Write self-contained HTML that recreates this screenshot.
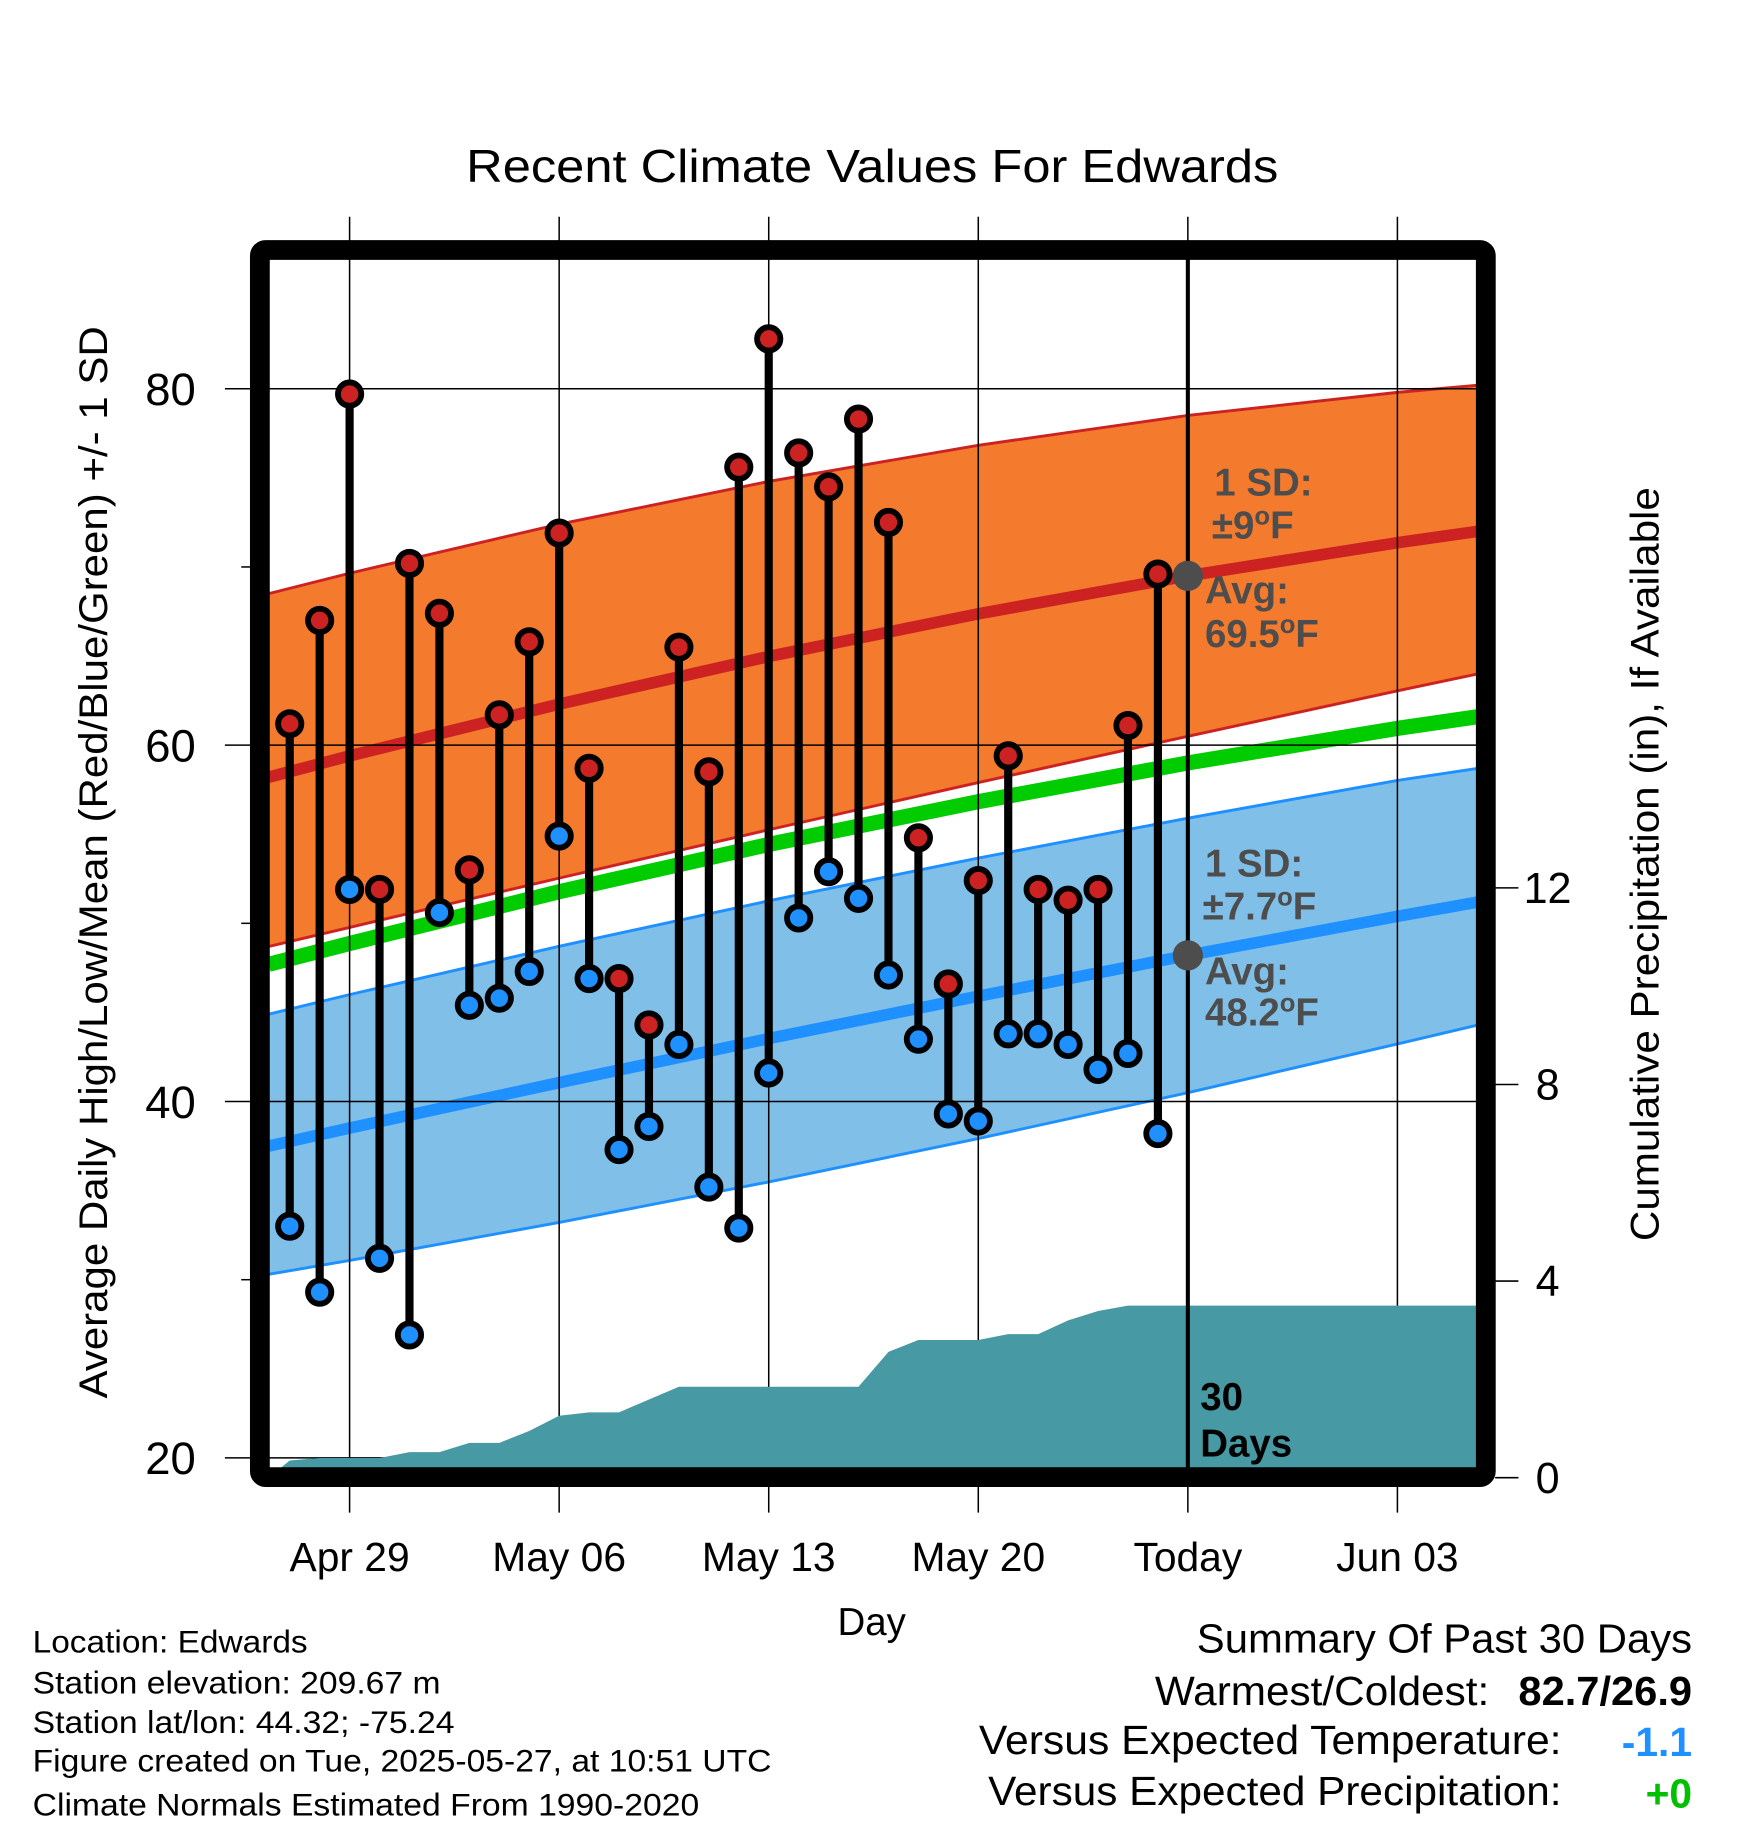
<!DOCTYPE html>
<html><head><meta charset="utf-8"><style>
html,body{margin:0;padding:0;background:#fff;}
svg{display:block;font-family:"Liberation Sans",Arial,sans-serif;}
</style></head><body>
<svg id="chart" width="1748" height="1828" viewBox="0 0 1500 1568.6" preserveAspectRatio="none" xmlns="http://www.w3.org/2000/svg">
<text x="400" y="156" font-size="40" textLength="697" lengthAdjust="spacingAndGlyphs">Recent Climate Values For Edwards</text>
<g id="bands"></g>
<g id="grid"></g>
<g id="precip"></g>
<g id="marks"></g>
<g id="annot"></g>
<rect x="223" y="214.5" width="1052" height="1053" rx="5" fill="none" stroke="#000" stroke-width="17"/>
<g id="axes"></g>
<text transform="translate(92,1200) rotate(-90)" font-size="34" textLength="920" lengthAdjust="spacingAndGlyphs">Average Daily High/Low/Mean (Red/Blue/Green) +/- 1 SD</text>
<text transform="translate(1423,1065) rotate(-90)" font-size="34" textLength="647" lengthAdjust="spacingAndGlyphs">Cumulative Precipitation (in), If Available</text>
<text x="748" y="1403" font-size="33" text-anchor="middle">Day</text>
<g font-size="27" lengthAdjust="spacingAndGlyphs">
<text x="28" y="1418" textLength="236" lengthAdjust="spacingAndGlyphs">Location: Edwards</text>
<text x="28" y="1453" textLength="350" lengthAdjust="spacingAndGlyphs">Station elevation: 209.67 m</text>
<text x="28" y="1487" textLength="362" lengthAdjust="spacingAndGlyphs">Station lat/lon: 44.32; -75.24</text>
<text x="28" y="1520" textLength="634" lengthAdjust="spacingAndGlyphs">Figure created on Tue, 2025-05-27, at 10:51 UTC</text>
<text x="28" y="1558" textLength="572" lengthAdjust="spacingAndGlyphs">Climate Normals Estimated From 1990-2020</text>
</g>
<g font-size="35">
<text x="1027" y="1418" textLength="425" lengthAdjust="spacingAndGlyphs">Summary Of Past 30 Days</text>
<text x="991" y="1463" textLength="287" lengthAdjust="spacingAndGlyphs">Warmest/Coldest:</text>
<text x="1303" y="1463" font-weight="bold" textLength="149" lengthAdjust="spacingAndGlyphs">82.7/26.9</text>
<text x="840" y="1505" textLength="500" lengthAdjust="spacingAndGlyphs">Versus Expected Temperature:</text>
<text x="1452" y="1507" text-anchor="end" font-weight="bold" fill="#1e90ff">-1.1</text>
<text x="848" y="1549" textLength="492" lengthAdjust="spacingAndGlyphs">Versus Expected Precipitation:</text>
<text x="1452" y="1551" text-anchor="end" font-weight="bold" fill="#00c000">+0</text>
</g>
</svg>
<script>
// Days relative to Apr 29 (0)
const xTickLabels = ["Apr 29","May 06","May 13","May 20","Today","Jun 03"];
const xTickDays = [0,7,14,21,28,35];
const yTicks = [20,40,60,80];
const yMinorTicks = [30,50,70];
const y2Ticks = [0,4,8,12];
// Observations, Apr 27 .. May 26
const obsDays = [-2,-1,0,1,2,3,4,5,6,7,8,9,10,11,12,13,14,15,16,17,18,19,20,21,22,23,24,25,26,27];
const highs = [61.2,67.0,79.7,51.9,70.2,67.4,53.0,61.7,65.8,71.9,58.7,46.9,44.3,65.5,58.5,75.6,82.8,76.4,74.5,78.3,72.5,54.8,46.6,52.4,59.4,51.9,51.3,51.9,61.1,69.6];
const lows = [33.0,29.3,51.9,31.2,26.9,50.6,45.4,45.8,47.3,54.9,46.9,37.3,38.6,43.2,35.2,32.9,41.6,50.3,52.9,51.4,47.1,43.5,39.3,38.9,43.8,43.8,43.2,41.8,42.7,38.2];
const precip = [0.35,0.4,0.4,0.4,0.52,0.52,0.71,0.71,0.95,1.26,1.33,1.33,1.59,1.85,1.85,1.85,1.85,1.85,1.85,1.85,2.56,2.8,2.8,2.8,2.92,2.92,3.2,3.39,3.5,3.5];
// Normals
const normDays = [-2.7,0,7,14,21,28,35,37.7];
const hiUpper = [68.5,69.65,72.4,74.8,76.83,78.5,79.8,80.2];
const hiMean = [58.2,59.4,62.3,64.98,67.37,69.5,71.36,72.0];
const hiLower = [48.7,49.77,52.54,55.25,57.9,60.5,63.05,64.0];
const avgMean = [47.7,48.87,51.77,54.43,56.83,59.0,60.94,61.6];
const loUpper = [44.9,46.0,48.71,51.26,53.66,55.9,58.02,58.7];
const loMean = [37.5,38.51,41.06,43.53,45.91,48.2,50.39,51.2];
const loLower = [30.3,31.08,33.21,35.49,37.92,40.5,43.23,44.3];
const todayDay = 28;
const todayHigh = 69.5, todayLow = 48.2;

const NS = "http://www.w3.org/2000/svg";
const X = d => 300 + 25.69 * d;
const Y = v => 1251 - (v - 20) * 15.29;
const Y2 = p => 1268 - p * 42.18;
function mk(tag, attrs, parent) {
  const e = document.createElementNS(NS, tag);
  for (const k in attrs) e.setAttribute(k, attrs[k]);
  parent.appendChild(e);
  return e;
}
const g = id => document.getElementById(id);
function pts(days, vals) { return days.map((d, i) => X(d).toFixed(1) + "," + Y(vals[i]).toFixed(1)); }

// bands
const bands = g("bands");
let e;
e = mk("polygon", {points: pts(normDays, hiUpper).concat(pts(normDays, hiLower).reverse()).join(" "), fill: "#f47a2e"}, bands);


e = mk("polygon", {points: pts(normDays, loUpper).concat(pts(normDays, loLower).reverse()).join(" "), fill: "#80c0e8"}, bands);


const lines = [[hiUpper, "#cc2222", 2.5, "high-upper-line"], [hiLower, "#cc2222", 2.5, "high-lower-line"], [hiMean, "#cc2222", 10, "high-mean-line"], [avgMean, "#00cc00", 13, "mean-normal-line"], [loUpper, "#1e90ff", 2.5, "low-upper-line"], [loLower, "#1e90ff", 2.5, "low-lower-line"], [loMean, "#1e90ff", 10, "low-mean-line"]];
lines.forEach(l => {
  const p = mk("polyline", {points: pts(normDays, l[0]).join(" "), fill: "none", stroke: l[1], "stroke-width": l[2]}, bands);
  
  
});

// grid
const grid = g("grid");
xTickDays.forEach(d => {
  const l = mk("line", {x1: X(d), x2: X(d), y1: 186, y2: 1298, stroke: "#000", "stroke-width": 1.3}, grid);
  
  
});
yTicks.forEach(v => {
  const l = mk("line", {x1: 193, x2: 1267, y1: Y(v), y2: Y(v), stroke: "#000", "stroke-width": 1.3}, grid);
  
  
});
yMinorTicks.forEach(v => {
  const l = mk("line", {x1: 207, x2: 216, y1: Y(v), y2: Y(v), stroke: "#000", "stroke-width": 1.3}, grid);
  
  
});

// precip
const pp = ["231,1268", X(-2.7).toFixed(1) + "," + Y2(0).toFixed(1)];
obsDays.forEach((d, i) => pp.push(X(d).toFixed(1) + "," + Y2(precip[i]).toFixed(1)));
pp.push("1268," + Y2(precip[precip.length - 1]).toFixed(1), "1268,1268");
e = mk("polygon", {points: pp.join(" "), fill: "#4799a3"}, g("precip"));



// marks
const marks = g("marks");
obsDays.forEach((d, i) => {
  const s = mk("line", {x1: X(d), x2: X(d), y1: Y(highs[i]), y2: Y(lows[i]), stroke: "#000", "stroke-width": 7}, marks);
  
  
});
obsDays.forEach((d, i) => {
  const h = mk("circle", {cx: X(d), cy: Y(highs[i]), r: 10, fill: "#cc2222", stroke: "#000", "stroke-width": 5}, marks);
  
  
  const lo = mk("circle", {cx: X(d), cy: Y(lows[i]), r: 10, fill: "#1e90ff", stroke: "#000", "stroke-width": 5}, marks);
  
  
});

// annotations
const an = g("annot");
e = mk("line", {x1: X(todayDay), x2: X(todayDay), y1: 222, y2: 1260, stroke: "#000", "stroke-width": 3.5}, an);


e = mk("circle", {cx: X(todayDay), cy: Y(todayHigh), r: 13, fill: "#4d4d4d"}, an);


e = mk("circle", {cx: X(todayDay), cy: Y(todayLow), r: 13, fill: "#4d4d4d"}, an);


// [main text, degree-suffix-number, x, y, name]
const labels = [["1 SD:", null, 1042, 425, "high-sd-label"], ["±9", "F", 1040, 462, "high-sd-value"], ["Avg:", null, 1034, 518, "high-avg-label"], ["69.5", "F", 1034, 555, "high-avg-value"],
  ["1 SD:", null, 1034, 752, "low-sd-label"], ["±7.7", "F", 1032, 789, "low-sd-value"], ["Avg:", null, 1034, 845, "low-avg-label"], ["48.2", "F", 1034, 880, "low-avg-value"]];
labels.forEach(l => {
  const t = mk("text", {x: l[2], y: l[3], "font-size": 33, "font-weight": "bold", fill: "#4d4d4d"}, an);
  
  
  t.appendChild(document.createTextNode(l[0]));
  if (l[1]) {
    const o = mk("tspan", {dy: -12, "font-size": 22}, t);
    o.textContent = "o";
    const f = mk("tspan", {dy: 12}, t);
    f.textContent = l[1];
  }
});
[["30", 1210], ["Days", 1250]].forEach(l => {
  const t = mk("text", {x: 1030, y: l[1], "font-size": 33, "font-weight": "bold", fill: "#000"}, an);
  t.textContent = l[0];
  
  
});

// axes labels
const ax = g("axes");
xTickDays.forEach((d, i) => {
  const t = mk("text", {x: X(d), y: 1348, "font-size": 35, "text-anchor": "middle"}, ax);
  t.textContent = xTickLabels[i];
  
  
});
yTicks.forEach(v => {
  const t = mk("text", {x: 168, y: Y(v) + 14, "font-size": 39, "text-anchor": "end"}, ax);
  t.textContent = v;
  
  
});
y2Ticks.forEach(p => {
  const l = mk("line", {x1: 1283, x2: 1303, y1: Y2(p), y2: Y2(p), stroke: "#000", "stroke-width": 1.3}, ax);
  
  
  const t = mk("text", {x: 1328, y: Y2(p) + 13, "font-size": 37, "text-anchor": "middle"}, ax);
  t.textContent = p;
  
  
});
</script>
</body></html>
